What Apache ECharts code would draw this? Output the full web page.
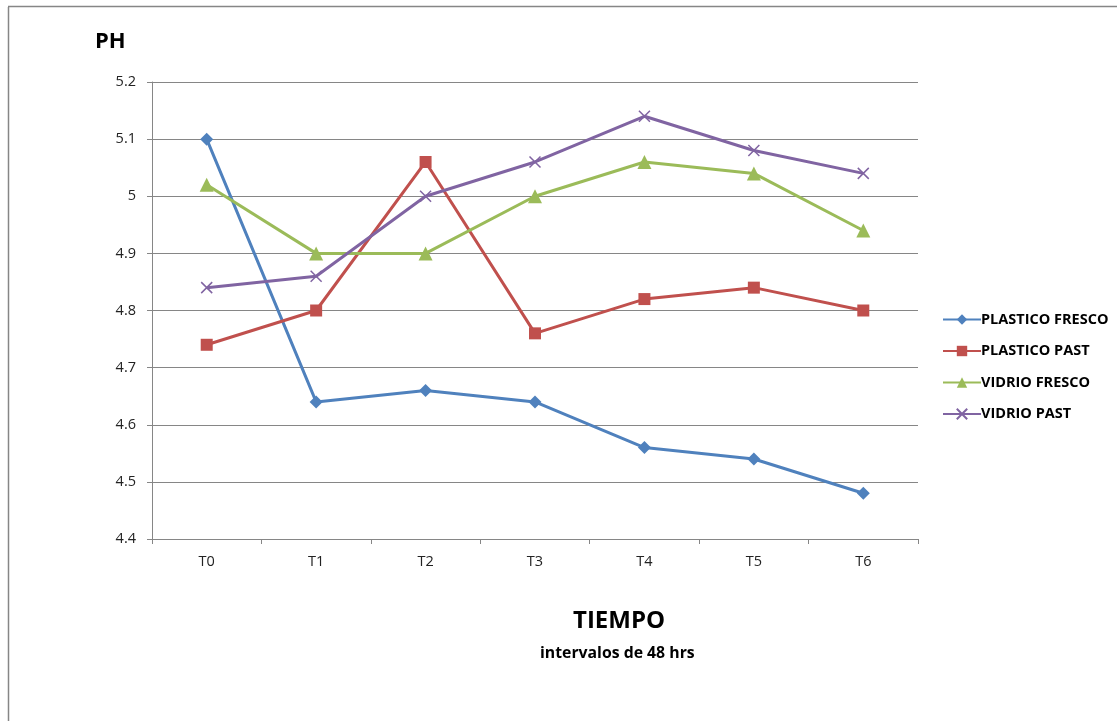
<!DOCTYPE html>
<html><head><meta charset="utf-8">
<script src="https://cdn.jsdelivr.net/npm/echarts@6/dist/echarts.min.js"></script>
<style>html,body{margin:0;padding:0;background:#fff}#c{width:1117px;height:721px}</style>
</head><body><div id="c"></div>
<script>
const categories = ['T0','T1','T2','T3','T4','T5','T6'];
const plasticoFresco = [5.10, 4.64, 4.66, 4.64, 4.56, 4.54, 4.48];
const plasticoPast   = [4.74, 4.80, 5.06, 4.76, 4.82, 4.84, 4.80];
const vidrioFresco   = [5.02, 4.90, 4.90, 5.00, 5.06, 5.04, 4.94];
const vidrioPast     = [4.84, 4.86, 5.00, 5.06, 5.14, 5.08, 5.04];
const yTicks = [4.4, 4.5, 4.6, 4.7, 4.8, 4.9, 5, 5.1, 5.2];

const FONT = '"Open Sans", "Noto Sans", sans-serif';
const chart = echarts.init(document.getElementById('c'));
const crossPath = 'path://M0,0L10,10M10,0L0,10';
function mk(name, data, color, symbol, size, extra) {
  return Object.assign({
    name, type: 'line', data, symbol, symbolSize: size,
    lineStyle: { color, width: 3 },
    itemStyle: { color },
    emphasis: { disabled: true },
    animation: false
  }, extra || {});
}
chart.setOption({
  animation: false,
  textStyle: { fontFamily: FONT },
  graphic: [
    { type: 'line', shape: { x1: 8.5, y1: 7, x2: 8.5, y2: 721 }, style: { stroke: '#868686', lineWidth: 1.5 } },
    { type: 'line', shape: { x1: 8, y1: 6.5, x2: 1117, y2: 6.5 }, style: { stroke: '#868686', lineWidth: 1.5 } }
  ],
  title: [
    { text: 'PH', left: 90, top: 26, textStyle: { fontFamily: FONT, fontSize: 22, fontWeight: 'bold', color: '#000' } },
    { text: 'TIEMPO', left: 568, top: 604, textStyle: { fontFamily: FONT, fontSize: 24, fontWeight: 'bold', color: '#000' } },
    { text: 'intervalos de 48 hrs', left: 535, top: 640, textStyle: { fontFamily: FONT, fontSize: 15.8, fontWeight: 'bold', color: '#000' } }
  ],
  legend: {
    orient: 'vertical', left: 937, top: 307, itemGap: 16.5, itemWidth: 38, itemHeight: 13,
    textStyle: { fontFamily: FONT, fontSize: 14.5, fontWeight: 'bold', color: '#000', padding: [0,0,0,-5] },
    data: ['PLASTICO FRESCO','PLASTICO PAST','VIDRIO FRESCO','VIDRIO PAST']
  },
  grid: { left: 152, right: 199, top: 82, bottom: 182, containLabel: false },
  xAxis: {
    type: 'category', data: categories, boundaryGap: true,
    axisLine: { lineStyle: { color: '#868686', width: 1 } },
    axisTick: { show: true, length: 5, alignWithLabel: false, lineStyle: { color: '#868686' } },
    axisLabel: { margin: 15, fontSize: 14.5, color: '#222', fontFamily: FONT }
  },
  yAxis: {
    type: 'value', min: 4.4, max: 5.2, interval: 0.1,
    axisLine: { show: true, lineStyle: { color: '#868686', width: 1 } },
    axisTick: { show: true, length: 5, lineStyle: { color: '#868686' } },
    splitLine: { show: true, lineStyle: { color: '#868686', width: 1 } },
    axisLabel: { margin: 16, fontSize: 14.5, color: '#222', fontFamily: FONT,
      formatter: v => { const t = yTicks.find(x => Math.abs(x - v) < 1e-6); return t === undefined ? '' : String(t); } }
  },
  series: [
    mk('PLASTICO FRESCO', plasticoFresco, '#4F81BD', 'diamond', 13),
    mk('PLASTICO PAST', plasticoPast, '#C0504D', 'rect', 12),
    mk('VIDRIO FRESCO', vidrioFresco, '#9BBB59', 'triangle', 14),
    mk('VIDRIO PAST', vidrioPast, '#8064A2', crossPath, 11, {
      itemStyle: { color: '#8064A2', borderColor: '#8064A2', borderWidth: 1.5 }
    })
  ]
});
</script></body></html>
